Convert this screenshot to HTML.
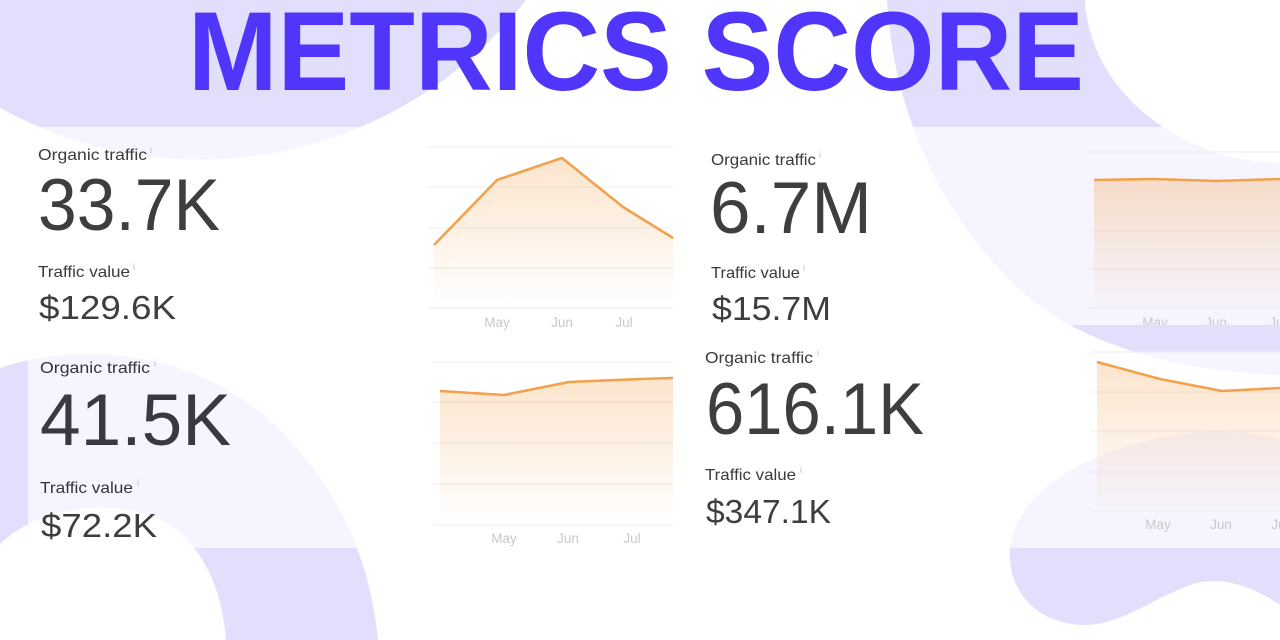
<!DOCTYPE html>
<html>
<head>
<meta charset="utf-8">
<style>
  html,body{margin:0;padding:0;background:#fff;overflow:hidden;}
  body{width:1280px;height:640px;overflow:hidden;}
  svg{display:block;}
  .lbl{font-family:"Liberation Sans",sans-serif;font-size:16px;fill:#3a3a3a;}
  .big{font-family:"Liberation Sans",sans-serif;font-size:73px;fill:#3e3e3e;}
  .mid{font-family:"Liberation Sans",sans-serif;font-size:33px;fill:#3e3e3e;}
  .inf{font-family:"Liberation Sans",sans-serif;font-size:9px;fill:#bdbdbd;}
  .ax{font-family:"Liberation Sans",sans-serif;font-size:13.5px;fill:#c9c9c9;text-anchor:middle;}
  .grid{stroke:#ececec;stroke-width:1;}
  .ln{fill:none;stroke:#f2a14c;stroke-width:2.6;stroke-linejoin:round;}
</style>
</head>
<body>
<svg width="1280" height="640" viewBox="0 0 1280 640" xmlns="http://www.w3.org/2000/svg">
  <defs>
    <linearGradient id="g1" x1="0" y1="158" x2="0" y2="308" gradientUnits="userSpaceOnUse">
      <stop offset="0" stop-color="#f4a04c" stop-opacity="0.28"/>
      <stop offset="1" stop-color="#f4a04c" stop-opacity="0"/>
    </linearGradient>
    <linearGradient id="g2" x1="0" y1="179" x2="0" y2="308" gradientUnits="userSpaceOnUse">
      <stop offset="0" stop-color="#f4a04c" stop-opacity="0.3"/>
      <stop offset="1" stop-color="#f4a04c" stop-opacity="0.02"/>
    </linearGradient>
    <linearGradient id="g3" x1="0" y1="378" x2="0" y2="525" gradientUnits="userSpaceOnUse">
      <stop offset="0" stop-color="#f4a04c" stop-opacity="0.28"/>
      <stop offset="1" stop-color="#f4a04c" stop-opacity="0"/>
    </linearGradient>
    <linearGradient id="g4" x1="0" y1="362" x2="0" y2="511" gradientUnits="userSpaceOnUse">
      <stop offset="0" stop-color="#f4a04c" stop-opacity="0.28"/>
      <stop offset="1" stop-color="#f4a04c" stop-opacity="0.02"/>
    </linearGradient>
    <clipPath id="c2"><rect x="1080" y="127" width="200" height="198"/></clipPath>
    <clipPath id="cAll"><rect x="0" y="0" width="1280" height="640"/></clipPath>
  </defs>

  <rect x="0" y="0" width="1280" height="640" fill="#ffffff"/>

  <g clip-path="url(#cAll)">
  <g fill="#e2dffd">
    <path d="M0,0 L526,0 A413 413 0 0 1 0,108 Z"/>
    <path d="M887,0 C893,110 940,215 1020,290 C1080,345 1180,372 1280,375 L1280,0 Z"/>
    <path d="M0,640 L0,368 C80,340 200,350 280,430 C340,490 370,560 378,640 Z"/>
    <path d="M1010,560 C1005,500 1080,445 1200,432 C1240,430 1270,436 1280,440 L1280,605 C1250,585 1220,575 1190,585 C1150,600 1120,625 1085,625 C1040,625 1012,595 1010,560 Z"/>
  </g>
  <g fill="#ffffff">
    <path d="M1085,0 C1090,95 1185,162 1280,163 L1280,0 Z"/>
    <path d="M0,544 C40,505 120,495 170,525 C205,550 222,590 226,640 L0,640 Z"/>
  </g>

  <rect x="0" y="127" width="1280" height="198" fill="#ffffff" fill-opacity="0.68"/>
  <rect x="28" y="352" width="1252" height="196" fill="#ffffff" fill-opacity="0.68"/>
  </g>

  <text x="188" y="90" font-family="'Liberation Sans',sans-serif" font-weight="bold" font-size="112" fill="#5036fb" textLength="896" lengthAdjust="spacingAndGlyphs">METRICS SCORE</text>

  <g>
    <line class="grid" x1="427" y1="147" x2="673" y2="147"/>
    <line class="grid" x1="427" y1="187" x2="673" y2="187"/>
    <line class="grid" x1="427" y1="228" x2="673" y2="228"/>
    <line class="grid" x1="427" y1="268" x2="673" y2="268"/>
    <line class="grid" x1="427" y1="308" x2="673" y2="308"/>
    <path d="M434,245 L497,180 L562,158 L623,207 L673,238 L673,308 L434,308 Z" fill="url(#g1)"/>
    <polyline class="ln" points="434,245 497,180 562,158 623,207 673,238"/>
    <text class="ax" x="497" y="327">May</text>
    <text class="ax" x="562" y="327">Jun</text>
    <text class="ax" x="624" y="327">Jul</text>
  </g>

  <g clip-path="url(#c2)">
    <line class="grid" x1="1088" y1="152" x2="1280" y2="152"/>
    <line class="grid" x1="1088" y1="191" x2="1280" y2="191"/>
    <line class="grid" x1="1088" y1="231" x2="1280" y2="231"/>
    <line class="grid" x1="1088" y1="269" x2="1280" y2="269"/>
    <line class="grid" x1="1088" y1="308" x2="1280" y2="308"/>
    <path d="M1094,180 L1155,179 L1217,181 L1280,179 L1280,306 L1094,306 Z" fill="url(#g2)"/>
    <polyline class="ln" points="1094,180 1155,179 1217,181 1280,179"/>
    <text class="ax" x="1155" y="327">May</text>
    <text class="ax" x="1216" y="327">Jun</text>
    <text class="ax" x="1278" y="327">Jul</text>
  </g>

  <g>
    <line class="grid" x1="433" y1="362" x2="673" y2="362"/>
    <line class="grid" x1="433" y1="402" x2="673" y2="402"/>
    <line class="grid" x1="433" y1="443" x2="673" y2="443"/>
    <line class="grid" x1="433" y1="484" x2="673" y2="484"/>
    <line class="grid" x1="433" y1="525" x2="673" y2="525"/>
    <path d="M440,391 L504,395 L569,382 L640,379 L673,378 L673,523 L440,523 Z" fill="url(#g3)"/>
    <polyline class="ln" points="440,391 504,395 569,382 640,379 673,378"/>
    <text class="ax" x="504" y="543">May</text>
    <text class="ax" x="568" y="543">Jun</text>
    <text class="ax" x="632" y="543">Jul</text>
  </g>

  <g clip-path="url(#cAll)">
    <line class="grid" x1="1090" y1="352" x2="1280" y2="352"/>
    <line class="grid" x1="1090" y1="392" x2="1280" y2="392"/>
    <line class="grid" x1="1090" y1="431" x2="1280" y2="431"/>
    <line class="grid" x1="1090" y1="472" x2="1280" y2="472"/>
    <line class="grid" x1="1090" y1="511" x2="1280" y2="511"/>
    <path d="M1097,362 L1160,379 L1222,391 L1280,388 L1280,509 L1097,509 Z" fill="url(#g4)"/>
    <polyline class="ln" points="1097,362 1160,379 1222,391 1280,388"/>
    <text class="ax" x="1158" y="529">May</text>
    <text class="ax" x="1221" y="529">Jun</text>
    <text class="ax" x="1280" y="529">Jul</text>
  </g>

  <text class="lbl" x="38" y="160" textLength="109" lengthAdjust="spacingAndGlyphs">Organic traffic</text>
  <text class="inf" x="150" y="153">i</text>
  <text class="big" x="38" y="230" textLength="182" lengthAdjust="spacingAndGlyphs">33.7K</text>
  <text class="lbl" x="38" y="277" textLength="92" lengthAdjust="spacingAndGlyphs">Traffic value</text>
  <text class="inf" x="133" y="270">i</text>
  <text class="mid" x="39" y="319" textLength="137" lengthAdjust="spacingAndGlyphs">$129.6K</text>

  <text class="lbl" x="711" y="165" textLength="105" lengthAdjust="spacingAndGlyphs">Organic traffic</text>
  <text class="inf" x="819" y="158">i</text>
  <text class="big" x="710" y="233" textLength="162" lengthAdjust="spacingAndGlyphs">6.7M</text>
  <text class="lbl" x="711" y="278" textLength="89" lengthAdjust="spacingAndGlyphs">Traffic value</text>
  <text class="inf" x="803" y="271">i</text>
  <text class="mid" x="712" y="320" textLength="119" lengthAdjust="spacingAndGlyphs">$15.7M</text>

  <text class="lbl" x="40" y="373" textLength="110" lengthAdjust="spacingAndGlyphs" style="fill:#33333d">Organic traffic</text>
  <text class="inf" x="154" y="366">i</text>
  <text class="big" x="40" y="445" textLength="191" lengthAdjust="spacingAndGlyphs" style="fill:#393944">41.5K</text>
  <text class="lbl" x="40" y="493" textLength="93" lengthAdjust="spacingAndGlyphs" style="fill:#33333d">Traffic value</text>
  <text class="inf" x="137" y="486">i</text>
  <text class="mid" x="41" y="537" textLength="116" lengthAdjust="spacingAndGlyphs">$72.2K</text>

  <text class="lbl" x="705" y="363" textLength="108" lengthAdjust="spacingAndGlyphs">Organic traffic</text>
  <text class="inf" x="817" y="356">i</text>
  <text class="big" x="706" y="434" textLength="218" lengthAdjust="spacingAndGlyphs">616.1K</text>
  <text class="lbl" x="705" y="480" textLength="91" lengthAdjust="spacingAndGlyphs">Traffic value</text>
  <text class="inf" x="800" y="473">i</text>
  <text class="mid" x="706" y="523" textLength="125" lengthAdjust="spacingAndGlyphs">$347.1K</text>
</svg>
</body>
</html>
